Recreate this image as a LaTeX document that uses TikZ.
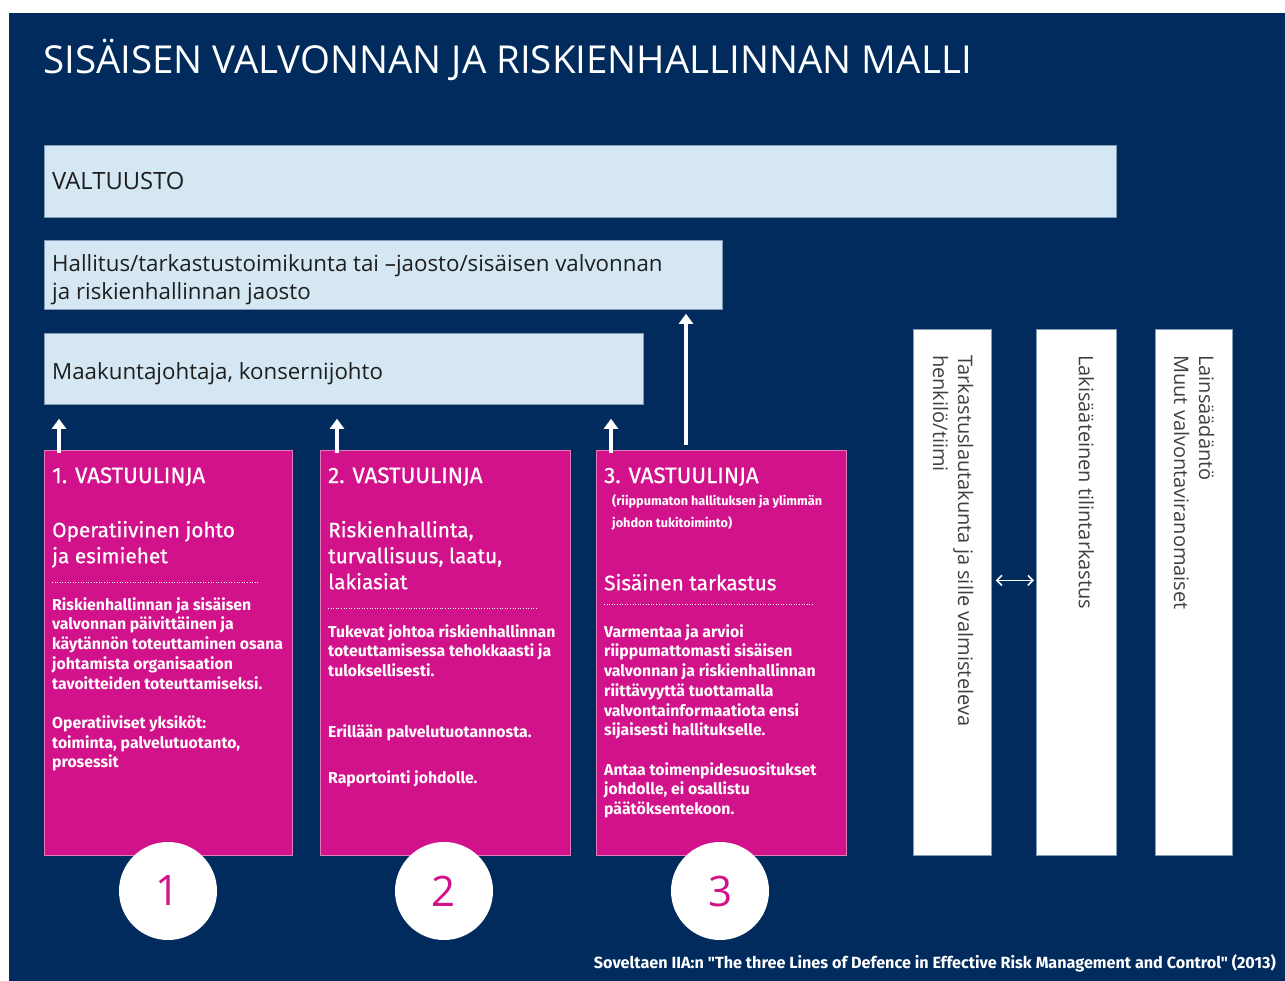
\documentclass[tikz,border=0pt]{standalone}
\usepackage{fontspec}
\setmainfont{Open Sans}
\newfontfamily\fira{Fira Sans}
\newfontfamily\firamed[FakeBold=0.7]{Fira Sans}
\usetikzlibrary{arrows.meta}
\definecolor{navy}{HTML}{002B5C}
\definecolor{lightbg}{HTML}{D4E7F2}
\definecolor{lightedge}{HTML}{7F9BB5}
\definecolor{mag}{HTML}{D2128A}
\definecolor{magedge}{HTML}{E27BB9}
\definecolor{darktext}{HTML}{1E1E1E}
\begin{document}
\begin{tikzpicture}[x=1pt,y=-1pt,
  lightbox/.style={rectangle,fill=lightbg,draw=lightedge,line width=0.8pt,inner sep=0pt,anchor=north west},
  whitebox/.style={rectangle,fill=white,draw=lightedge,line width=0.8pt,inner sep=0pt,anchor=north west},
  magbox/.style={rectangle,fill=mag,draw=magedge,line width=0.8pt,inner sep=0pt,anchor=north west,minimum height=405pt},
  ml/.style={inner sep=0pt,anchor=north west,align=left,execute at begin node=\strut},
  lighttext/.style={ml,text=darktext,font=\fontsize{22.3}{28}\selectfont,yshift=19.6pt},
  head/.style={inner sep=0pt,anchor=base west,text=white,font=\firamed\fontsize{22.3}{26}\selectfont},
  sub/.style={ml,text=white,font=\firamed\fontsize{20.8}{26}\selectfont,yshift=18.2pt},
  body/.style={ml,text=white,font=\fira\bfseries\fontsize{15.8}{19.7}\selectfont,yshift=13.79pt},
  small/.style={ml,text=white,font=\fira\bfseries\fontsize{12.7}{22}\selectfont,yshift=15.4pt},
  vert/.style={ml,rotate=-90,text=darktext!85,font=\fontsize{20}{25}\selectfont},
  numcircle/.style={circle,fill=white,minimum size=98pt,inner sep=0pt,text=mag,font=\fontsize{42}{42}\selectfont},
  dots/.style={white,line width=0.8pt,dash pattern=on 1pt off 1.6pt},
  arr/.style={white,line width=3.5pt,-{Triangle[length=10pt,width=14pt]}},
  dbl/.style={white,line width=1.6pt,{Straight Barb[length=5pt,width=10pt]}-{Straight Barb[length=5pt,width=10pt]}}
]
\useasboundingbox (0,0) rectangle (1285,981);
\fill[white] (0,0) rectangle (1285,981);
\fill[navy] (9,13) rectangle (1285,981);

% title
\node[inner sep=0pt,anchor=base west,text=white,font=\fontsize{38.5}{40}\selectfont] (title) at (43,74) {SISÄISEN VALVONNAN JA RISKIENHALLINNAN MALLI};

% light boxes
\node[lightbox,minimum width=1072pt,minimum height=72pt] (valt) at (44,145) {};
\node[inner sep=0pt,anchor=base west,text=darktext,font=\fontsize{23.8}{28}\selectfont] (valtt) at (52,190) {VALTUUSTO};
\node[lightbox,minimum width=678pt,minimum height=69pt] (hall) at (44,240) {};
\node[lighttext] (hallt) at (52,274) {Hallitus/tarkastustoimikunta tai –jaosto/sisäisen valvonnan\\ja riskienhallinnan jaosto};
\node[lightbox,minimum width=599pt,minimum height=71pt] (maak) at (44,333) {};
\node[lighttext] (maakt) at (52,379) {Maakuntajohtaja, konsernijohto};

% magenta boxes
\node[magbox,minimum width=248pt] (l1) at (44,450) {};
\node[magbox,minimum width=250pt] (l2) at (320,450) {};
\node[magbox,minimum width=250pt] (l3) at (596,450) {};

% box 1 texts
\node[head] (h1) at (52,483) {1. VASTUULINJA};
\node[sub] (s1) at (52,539) {Operatiivinen johto\\ja esimiehet};
\draw[dots] (52,582) -- (260,582);
\node[body] (b1) at (52,611) {Riskienhallinnan ja sisäisen\\valvonnan päivittäinen ja\\käytännön toteuttaminen osana\\johtamista organisaation\\tavoitteiden toteuttamiseksi.\\[19.7pt]Operatiiviset yksiköt:\\toiminta, palvelutuotanto,\\prosessit};

% box 2 texts
\node[head] (h2) at (328,483) {2. VASTUULINJA};
\node[sub] (s2) at (328,539) {Riskienhallinta,\\turvallisuus, laatu,\\lakiasiat};
\draw[dots] (328,608) -- (537,608);
\node[body] (b2) at (328,638) {Tukevat johtoa riskienhallinnan\\toteuttamisessa tehokkaasti ja\\tuloksellisesti.};
\node[body] (b2b) at (328,737) {Erillään palvelutuotannosta.};
\node[body] (b2c) at (328,783) {Raportointi johdolle.};

% box 3 texts
\node[head] (h3) at (604,483) {3. VASTUULINJA};
\node[small] (sm3) at (612,510) {(riippumaton hallituksen ja ylimmän\\johdon tukitoiminto)};
\node[sub] (s3) at (604,590) {Sisäinen tarkastus};
\draw[dots] (604,604) -- (814,604);
\node[body] (b3) at (604,638) {Varmentaa ja arvioi\\riippumattomasti sisäisen\\valvonnan ja riskienhallinnan\\riittävyyttä tuottamalla\\valvontainformaatiota ensi\\sijaisesti hallitukselle.\\[19.7pt]Antaa toimenpidesuositukset\\johdolle, ei osallistu\\päätöksentekoon.};

% arrows
\draw[arr] ([xshift=15pt,yshift=-3pt]l1.north west) -- ([xshift=15pt,yshift=-14pt]l1.north west |- maak.south);
\draw[arr] ([xshift=17pt,yshift=-3pt]l2.north west) -- ([xshift=17pt,yshift=-14pt]l2.north west |- maak.south);
\draw[arr] ([xshift=15pt,yshift=-3pt]l3.north west) -- ([xshift=15pt,yshift=-14pt]l3.north west |- maak.south);
\draw[arr] ([xshift=90pt,yshift=5pt]l3.north west) -- ([xshift=90pt,yshift=-4pt]l3.north west |- hall.south);

% circles
\node[numcircle] (c1) at (168,891) {1};
\node[numcircle] (c2) at (444,891) {2};
\node[numcircle] (c3) at (720,891) {3};

% white vertical boxes
\node[whitebox,minimum width=78pt,minimum height=526pt] (wa) at (913,329) {};
\node[whitebox,minimum width=80pt,minimum height=526pt] (wb) at (1036,329) {};
\node[whitebox,minimum width=77pt,minimum height=526pt] (wc) at (1155,329) {};
\node[vert] (wat) at (973.5,355) {Tarkastuslautakunta ja sille valmisteleva\\henkilö/tiimi};
\node[vert] (wbt) at (1096.5,355) {Lakisääteinen tilintarkastus};
\node[vert] (wct) at (1214.5,355) {Lainsäädäntö\\Muut valvontaviranomaiset};
\draw[dbl] ([xshift=4pt,yshift=12pt]wa.east) -- ([xshift=-2pt,yshift=12pt]wb.west);

% footer
\node[inner sep=0pt,anchor=base east,text=white,font=\fira\bfseries\fontsize{16.2}{18}\selectfont] (foot) at (1276,968) {Soveltaen IIA:n "The three Lines of Defence in Effective Risk Management and Control" (2013)};
\end{tikzpicture}
\end{document}
